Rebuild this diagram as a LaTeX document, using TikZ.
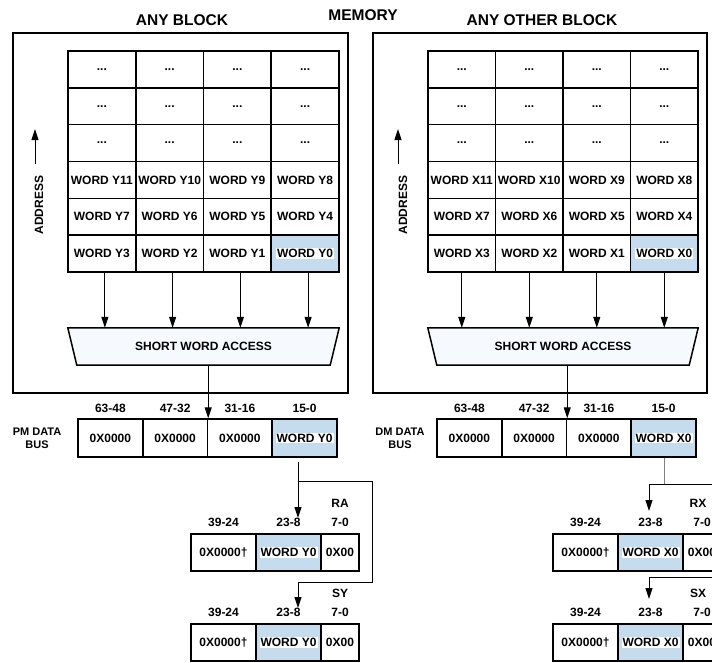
\documentclass[tikz,border=0pt]{standalone}
\usepackage{fontspec}
\setmainfont{Liberation Sans}
\usetikzlibrary{arrows.meta,backgrounds}
\definecolor{hlblue}{RGB}{197,220,239}
\definecolor{trapfill}{RGB}{246,249,253}
\newcommand\wbox[1]{{\setlength{\fboxsep}{1pt}\colorbox{white}{#1}}}
\begin{document}
\begin{tikzpicture}[x=1pt,y=-1pt,
  cell/.style={draw, line width=1.5pt, minimum width=67.75pt, minimum height=36.8pt, inner sep=0pt, font=\fontsize{12}{14}\selectfont\bfseries},
  hlcell/.style={fill=hlblue},
  buscell/.style={cell, minimum width=64.75pt, minimum height=38pt},
  regcell/.style={cell, minimum height=37pt},
  lbl/.style={font=\fontsize{12}{14}\selectfont\bfseries, inner sep=0pt},
  title/.style={font=\fontsize{15.5}{18}\selectfont\bfseries, inner sep=0pt},
  arr/.style={line width=1pt, -{Triangle[length=11pt,width=7pt]}},
  plain/.style={line width=1pt},
  blockbox/.style={draw, line width=1.5pt},
]
\useasboundingbox (0,0) rectangle (712,662);
\clip (0,0) rectangle (712,662);

% titles
\node[title] (tAny) at (182,20) {ANY BLOCK};
\node[title] (tMem) at (363,15) {MEMORY};
\node[title] (tOther) at (542,20) {ANY OTHER BLOCK};

% outer blocks
\draw[blockbox] (13,33) rectangle (348,393);
\draw[blockbox] (373,33) rectangle (707,393);

% ---------- left grid ----------
\foreach \r/\y in {1/69.4,2/106.3,3/143.1}{
  \foreach \c/\x in {1/101.9,2/169.6,3/237.4,4/305.1}{
    \node[cell] (L\r\c) at (\x,\y) {...};
  }
}
\node[cell] (L41) at (101.9,180) {WORD Y11};
\node[cell] (L42) at (169.6,180) {WORD Y10};
\node[cell] (L43) at (237.4,180) {WORD Y9};
\node[cell] (L44) at (305.1,180) {WORD Y8};
\node[cell] (L51) at (101.9,216.8) {WORD Y7};
\node[cell] (L52) at (169.6,216.8) {WORD Y6};
\node[cell] (L53) at (237.4,216.8) {WORD Y5};
\node[cell] (L54) at (305.1,216.8) {WORD Y4};
\node[cell] (L61) at (101.9,253.6) {WORD Y3};
\node[cell] (L62) at (169.6,253.6) {WORD Y2};
\node[cell] (L63) at (237.4,253.6) {WORD Y1};
\node[cell,hlcell] (L64) at (305.1,253.6) {\wbox{WORD Y0}};

% address left
\node[lbl, rotate=90] (addrL) at (39,205) {ADDRESS};
\coordinate (aL1) at (35,164);
\coordinate (aL2) at (35,129);
\draw[arr] (aL1) -- (aL2);

% trapezoid left
\node[lbl, minimum width=271pt, minimum height=37pt] (trapL) at (203.5,346.5) {SHORT WORD ACCESS};
\begin{scope}[on background layer]
\draw[line width=1.5pt, fill=trapfill] (trapL.north west) -- (trapL.north east) -- ([xshift=-9pt]trapL.south east) -- ([xshift=9pt]trapL.south west) -- cycle;
\end{scope}
\foreach \c in {1,...,4}{
  \draw[arr] ([xshift=3pt]L6\c.south) -- ([xshift=3pt]L6\c.south |- trapL.north);
}

% left bus
\node[buscell] (PB1) at (110.4,438) {0X0000};
\node[buscell] (PB2) at (175.1,438) {0X0000};
\node[buscell] (PB3) at (239.9,438) {0X0000};
\node[buscell,hlcell] (PB4) at (304.6,438) {\wbox{WORD Y0}};
\node[lbl, anchor=south] (PB1t) at ([yshift=5pt]PB1.north) {63-48};
\node[lbl, anchor=south] (PB2t) at ([yshift=5pt]PB2.north) {47-32};
\node[lbl, anchor=south] (PB3t) at ([yshift=5pt]PB3.north) {31-16};
\node[lbl, anchor=south] (PB4t) at ([yshift=5pt]PB4.north) {15-0};
\node[font=\fontsize{11}{13}\selectfont\bfseries, align=center, inner sep=0pt] (pmlbl) at (37,438) {PM DATA\\BUS};
\draw[arr] (PB2.north east |- trapL.south) -- (PB2.north east);

% left registers
\node[regcell, minimum width=65pt] (RA1) at (223.5,552.5) {0X0000†};
\node[regcell, minimum width=65pt, hlcell] (RA2) at (288.5,552.5) {\wbox{WORD Y0}};
\node[regcell, minimum width=38pt] (RA3) at (340,552.5) {0X00};
\node[lbl, anchor=south] (RA1t) at ([yshift=6pt]RA1.north) {39-24};
\node[lbl, anchor=south] (RA2t) at ([yshift=6pt]RA2.north) {23-8};
\node[lbl, anchor=south] (RA3t) at ([yshift=6pt]RA3.north) {7-0};
\node[lbl] (RAname) at (340,503) {RA};

\node[regcell, minimum width=65pt] (SY1) at (223.5,642.5) {0X0000†};
\node[regcell, minimum width=65pt, hlcell] (SY2) at (288.5,642.5) {\wbox{WORD Y0}};
\node[regcell, minimum width=38pt] (SY3) at (340,642.5) {0X00};
\node[lbl, anchor=south] (SY1t) at ([yshift=6pt]SY1.north) {39-24};
\node[lbl, anchor=south] (SY2t) at ([yshift=6pt]SY2.north) {23-8};
\node[lbl, anchor=south] (SY3t) at ([yshift=6pt]SY3.north) {7-0};
\node[lbl] (SYname) at (340,593) {SY};

% left routing
\coordinate (jA) at (298,481);
\coordinate (tipA) at (298,518);
\coordinate (cA) at (372,481);
\coordinate (dA) at (372,582);
\coordinate (eA) at (298,582);
\coordinate (tipS) at (298,608);
\draw[arr] ([yshift=-4pt]PB4.south -| jA) -- (tipA);
\draw[arr] (jA) -- (cA) -- (dA) -- (eA) -- (tipS);

% ---------- right grid ----------
\foreach \r/\y in {1/69.4,2/106.3,3/143.1}{
  \foreach \c/\x in {1/461.75,2/529.25,3/596.75,4/664.25}{
    \node[cell, minimum width=67.5pt] (R\r\c) at (\x,\y) {...};
  }
}
\begin{scope}[every node/.append style={minimum width=67.5pt}]
\node[cell] (R41) at (461.75,180) {WORD X11};
\node[cell] (R42) at (529.25,180) {WORD X10};
\node[cell] (R43) at (596.75,180) {WORD X9};
\node[cell] (R44) at (664.25,180) {WORD X8};
\node[cell] (R51) at (461.75,216.8) {WORD X7};
\node[cell] (R52) at (529.25,216.8) {WORD X6};
\node[cell] (R53) at (596.75,216.8) {WORD X5};
\node[cell] (R54) at (664.25,216.8) {WORD X4};
\node[cell] (R61) at (461.75,253.6) {WORD X3};
\node[cell] (R62) at (529.25,253.6) {WORD X2};
\node[cell] (R63) at (596.75,253.6) {WORD X1};
\node[cell,hlcell] (R64) at (664.25,253.6) {\wbox{WORD X0}};
\end{scope}

% address right
\node[lbl, rotate=90] (addrR) at (403,205) {ADDRESS};
\coordinate (aR1) at (398,164);
\coordinate (aR2) at (398,129);
\draw[arr] (aR1) -- (aR2);

% trapezoid right
\node[lbl, minimum width=270pt, minimum height=37pt] (trapR) at (563,346.5) {SHORT WORD ACCESS};
\begin{scope}[on background layer]
\draw[line width=1.5pt, fill=trapfill] (trapR.north west) -- (trapR.north east) -- ([xshift=-9pt]trapR.south east) -- ([xshift=9pt]trapR.south west) -- cycle;
\end{scope}
\foreach \c in {1,...,4}{
  \draw[arr] (R6\c.south) -- (R6\c.south |- trapR.north);
}

% right bus
\node[buscell] (DB1) at (469.4,438) {0X0000};
\node[buscell] (DB2) at (534.1,438) {0X0000};
\node[buscell] (DB3) at (598.9,438) {0X0000};
\node[buscell,hlcell] (DB4) at (663.6,438) {\wbox{WORD X0}};
\node[lbl, anchor=south] (DB1t) at ([yshift=5pt]DB1.north) {63-48};
\node[lbl, anchor=south] (DB2t) at ([yshift=5pt]DB2.north) {47-32};
\node[lbl, anchor=south] (DB3t) at ([yshift=5pt]DB3.north) {31-16};
\node[lbl, anchor=south] (DB4t) at ([yshift=5pt]DB4.north) {15-0};
\node[font=\fontsize{11}{13}\selectfont\bfseries, align=center, inner sep=0pt] (dmlbl) at (400,438) {DM DATA\\BUS};
\draw[arr] (DB2.north east |- trapR.south) -- (DB2.north east);

% right registers
\node[regcell, minimum width=65pt] (RX1) at (585.5,552.5) {0X0000†};
\node[regcell, minimum width=65pt, hlcell] (RX2) at (650.5,552.5) {\wbox{WORD X0}};
\node[regcell, minimum width=38pt] (RX3) at (702,552.5) {0X00};
\node[lbl, anchor=south] (RX1t) at ([yshift=6pt]RX1.north) {39-24};
\node[lbl, anchor=south] (RX2t) at ([yshift=6pt]RX2.north) {23-8};
\node[lbl, anchor=south] (RX3t) at ([yshift=6pt]RX3.north) {7-0};
\node[lbl] (RXname) at (698,503) {RX};

\node[regcell, minimum width=65pt] (SX1) at (585.5,642.5) {0X0000†};
\node[regcell, minimum width=65pt, hlcell] (SX2) at (650.5,642.5) {\wbox{WORD X0}};
\node[regcell, minimum width=38pt] (SX3) at (702,642.5) {0X00};
\node[lbl, anchor=south] (SX1t) at ([yshift=6pt]SX1.north) {39-24};
\node[lbl, anchor=south] (SX2t) at ([yshift=6pt]SX2.north) {23-8};
\node[lbl, anchor=south] (SX3t) at ([yshift=6pt]SX3.north) {7-0};
\node[lbl] (SXname) at (698,593) {SX};

% right routing
\coordinate (jB) at (664,484);
\coordinate (kB) at (649,484);
\coordinate (eB) at (730,484);
\coordinate (tipRX) at (649,511);
\coordinate (kS) at (649,577);
\coordinate (eS) at (730,577);
\coordinate (tipSX) at (649,599);
\draw[plain, gray] (DB4.south -| jB) -- (jB);
\draw[plain] (eB) -- (kB);
\draw[arr] (kB) -- (tipRX);
\draw[plain] (eS) -- (kS);
\draw[arr] (kS) -- (tipSX);
\end{tikzpicture}
\end{document}
